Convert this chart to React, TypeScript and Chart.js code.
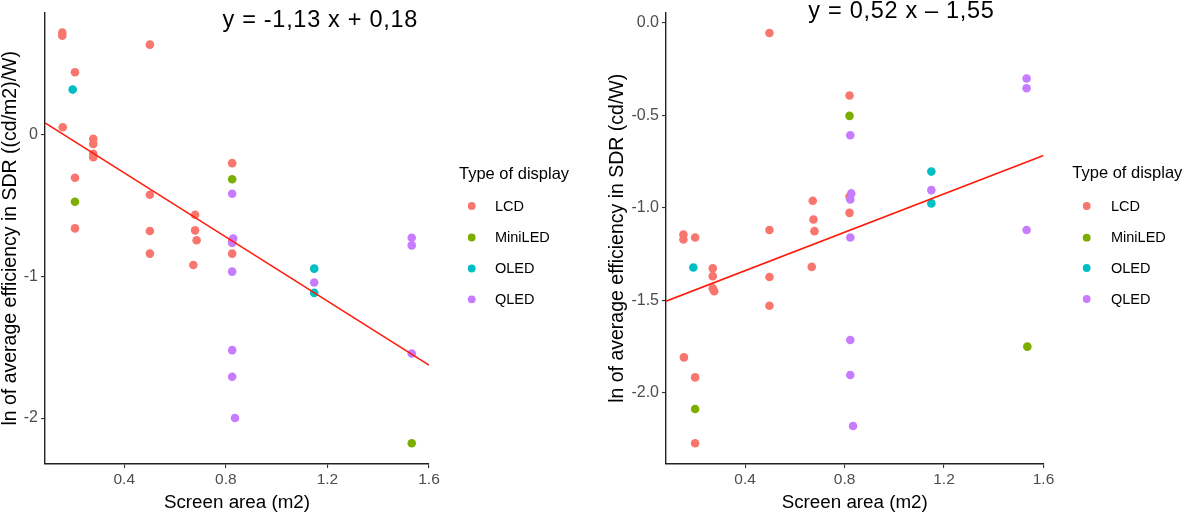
import { useEffect, useRef } from "react";
import { Chart, registerables } from "chart.js";

Chart.register(...registerables);

const FONT = '"Liberation Sans", Arial, Helvetica, sans-serif';
Chart.defaults.font.family = FONT;

// ---------- shared ----------
const displayTypes = ["LCD", "MiniLED", "OLED", "QLED"];
const typeColors = ["#F8766D", "#7CAE00", "#00BFC4", "#C77CFF"];
const legendTitle = "Type of display";
const xTicks = [0.4, 0.8, 1.2, 1.6];
const xTitle = "Screen area (m2)";

// ---------- left panel: ln efficiency ((cd/m2)/W) ----------
const leftLcdX = [0.156, 0.156, 0.158, 0.206, 0.206, 0.206, 0.278, 0.278, 0.278, 0.278, 0.501, 0.501, 0.501, 0.501, 0.679, 0.679, 0.685, 0.672, 0.825, 0.825, 0.825];
const leftLcdY = [0.72, 0.697, 0.051, 0.439, -0.305, -0.662, -0.03, -0.066, -0.136, -0.16, 0.634, -0.425, -0.681, -0.84, -0.566, -0.676, -0.746, -0.92, -0.202, -0.75, -0.84];
const leftMiniX = [0.206, 0.825, 1.532];
const leftMiniY = [-0.474, -0.315, -2.178];
const leftOledX = [0.197, 1.148, 1.148];
const leftOledY = [0.317, -0.946, -1.117];
const leftQledX = [0.825, 0.829, 0.825, 0.825, 0.825, 0.825, 0.836, 1.148, 1.532, 1.532, 1.532];
const leftQledY = [-0.418, -0.734, -0.765, -0.967, -1.521, -1.709, -2.0, -1.044, -0.728, -0.782, -1.545];
const leftFitX = [0.088, 1.6];
const leftFitY = [0.082, -1.627];
const leftYTicks = [0, -1, -2];
const leftYTitle = "ln of average efficiency in SDR ((cd/m2)/W)";
const leftEquation = "y = -1,13 x + 0,18";

// ---------- right panel: ln efficiency (cd/W) ----------
const rightLcdX = [0.152, 0.152, 0.154, 0.199, 0.199, 0.199, 0.27, 0.27, 0.27, 0.276, 0.498, 0.498, 0.498, 0.498, 0.672, 0.675, 0.679, 0.668, 0.82, 0.82, 0.82];
const rightLcdY = [-1.145, -1.172, -1.809, -1.161, -1.917, -2.273, -1.328, -1.37, -1.436, -1.451, -0.056, -1.121, -1.375, -1.53, -0.963, -1.064, -1.127, -1.32, -0.394, -0.94, -1.028];
const rightMiniX = [0.199, 0.82, 1.535];
const rightMiniY = [-2.088, -0.504, -1.751];
const rightOledX = [0.192, 1.149, 1.149];
const rightOledY = [-1.323, -0.805, -0.977];
const rightQledX = [0.823, 0.827, 0.823, 0.823, 0.823, 0.823, 0.834, 1.149, 1.532, 1.532, 1.532];
const rightQledY = [-0.609, -0.923, -0.956, -1.161, -1.715, -1.904, -2.18, -0.905, -0.302, -0.355, -1.121];
const rightFitX = [0.082, 1.6];
const rightFitY = [-1.505, -0.718];
const rightYTicks = [0, -0.5, -1, -1.5, -2];
const rightYTitle = "ln of average efficiency in SDR (cd/W)";
const rightEquation = "y = 0,52 x \u2013 1,55";

type PanelCfg = {
  xs: number[][];
  ys: number[][];
  fitX: number[];
  fitY: number[];
  xMin: number;
  xMax: number;
  yMin: number;
  yMax: number;
  yTicks: number[];
  yDecimals: number;
  yTitle: string;
  equation: string;
  eqX: number;
  eqY: number;
  yAxisWidth: number;
  padRight: number;
  yTitlePad: number;
  legX: number;
  legDotX: number;
  legTextX: number;
  legTitleY: number;
  legItemY: number[];
};

const zip = (xs: number[], ys: number[]) => xs.map((x, i) => ({ x, y: ys[i] }));

function Panel({ cfg, left }: { cfg: PanelCfg; left: number }) {
  const ref = useRef<HTMLCanvasElement | null>(null);
  useEffect(() => {
    if (!ref.current) return;
    const overlay = {
      id: "overlay",
      afterDraw(chart: any) {
        const ctx = chart.ctx as CanvasRenderingContext2D;
        ctx.save();
        ctx.fillStyle = "#000";
        ctx.textAlign = "left";
        ctx.textBaseline = "alphabetic";
        ctx.font = `23.5px ${FONT}`;
        (ctx as any).letterSpacing = "0.7px";
        ctx.fillText(cfg.equation, cfg.eqX, cfg.eqY);
        (ctx as any).letterSpacing = "0px";
        ctx.textBaseline = "middle";
        ctx.font = `16.5px ${FONT}`;
        ctx.fillText(legendTitle, cfg.legX, cfg.legTitleY);
        ctx.font = `14.5px ${FONT}`;
        displayTypes.forEach((t, i) => {
          const y = cfg.legItemY[i];
          ctx.fillStyle = typeColors[i];
          ctx.beginPath();
          ctx.arc(cfg.legDotX, y, 3.9, 0, Math.PI * 2);
          ctx.fill();
          ctx.fillStyle = "#000";
          ctx.fillText(t, cfg.legTextX, y + 0.5);
        });
        ctx.restore();
      },
    };
    const pointSets = displayTypes.map((t, i) => ({
      type: "scatter" as const,
      label: t,
      data: zip(cfg.xs[i], cfg.ys[i]),
      backgroundColor: typeColors[i],
      borderColor: typeColors[i],
      borderWidth: 0,
      pointRadius: 4.3,
      pointHoverRadius: 4.3,
      order: displayTypes.length - i,
    }));
    const tickFontX = { size: 15.5, family: FONT };
    const tickFontY = { size: 16, family: FONT };
    const chart = new Chart(ref.current, {
      type: "scatter",
      data: {
        datasets: [
          ...pointSets,
          {
            type: "line",
            label: "fit",
            data: zip(cfg.fitX, cfg.fitY),
            borderColor: "#FF1A0A",
            borderWidth: 1.6,
            pointRadius: 0,
            showLine: true,
            fill: false,
            order: 0,
          } as any,
        ],
      },
      options: {
        animation: false,
        responsive: false,
        events: [],
        layout: { padding: { left: 0, right: cfg.padRight, top: 12, bottom: 0 } },
        plugins: { legend: { display: false }, tooltip: { enabled: false } },
        scales: {
          x: {
            type: "linear",
            min: cfg.xMin,
            max: cfg.xMax,
            afterBuildTicks: (s: any) => {
              s.ticks = xTicks.map((value) => ({ value }));
            },
            afterFit: (s: any) => {
              s.height = 50;
            },
            grid: { display: true, drawOnChartArea: false, drawTicks: true, tickLength: 4, color: "#333", lineWidth: 1.1 },
            border: { display: true, color: "#222", width: 1.4 },
            ticks: {
              font: tickFontX,
              color: "#4D4D4D",
              padding: 2,
              maxRotation: 0,
              autoSkip: false,
              callback: (v: any) => Number(v).toFixed(1),
            },
            title: {
              display: true,
              text: xTitle,
              color: "#000",
              font: { size: 18.8, family: FONT, lineHeight: 1 },
              padding: { top: 0, bottom: 2 },
            },
          },
          y: {
            type: "linear",
            min: cfg.yMin,
            max: cfg.yMax,
            afterBuildTicks: (s: any) => {
              s.ticks = cfg.yTicks.map((value) => ({ value }));
            },
            afterFit: (s: any) => {
              s.width = cfg.yAxisWidth;
            },
            grid: { display: true, drawOnChartArea: false, drawTicks: true, tickLength: 4, color: "#333", lineWidth: 1.1 },
            border: { display: true, color: "#222", width: 1.4 },
            ticks: {
              font: tickFontY,
              color: "#4D4D4D",
              padding: 3,
              autoSkip: false,
              callback: (v: any) => Number(v).toFixed(cfg.yDecimals),
            },
            title: {
              display: true,
              text: cfg.yTitle,
              color: "#000",
              font: { size: 19.5, family: FONT, lineHeight: 1 },
              padding: { top: cfg.yTitlePad, bottom: 0 },
            },
          },
        },
      },
      plugins: [overlay],
    } as any);
    return () => chart.destroy();
  }, [cfg]);
  return (
    <canvas
      ref={ref}
      width={600}
      height={514}
      style={{ position: "absolute", left, top: 0, width: 600, height: 514 }}
    />
  );
}

const leftCfg: PanelCfg = {
  xs: [leftLcdX, leftMiniX, leftOledX, leftQledX],
  ys: [leftLcdY, leftMiniY, leftOledY, leftQledY],
  fitX: leftFitX,
  fitY: leftFitY,
  xMin: 0.088,
  xMax: 1.6,
  yMin: -2.324,
  yMax: 0.86,
  yTicks: leftYTicks,
  yDecimals: 0,
  yTitle: leftYTitle,
  equation: leftEquation,
  eqX: 222.5,
  eqY: 26.5,
  yAxisWidth: 45,
  padRight: 171,
  yTitlePad: 1,
  legX: 459,
  legDotX: 471.7,
  legTextX: 495,
  legTitleY: 174,
  legItemY: [206, 237.5, 268.5, 299.3],
};

const rightCfg: PanelCfg = {
  xs: [rightLcdX, rightMiniX, rightOledX, rightQledX],
  ys: [rightLcdY, rightMiniY, rightOledY, rightQledY],
  fitX: rightFitX,
  fitY: rightFitY,
  xMin: 0.082,
  xMax: 1.6,
  yMin: -2.385,
  yMax: 0.054,
  yTicks: rightYTicks,
  yDecimals: 1,
  yTitle: rightYTitle,
  equation: rightEquation,
  eqX: 208.3,
  eqY: 17.5,
  yAxisWidth: 66,
  padRight: 156.5,
  yTitlePad: 8,
  legX: 472.3,
  legDotX: 486.7,
  legTextX: 511,
  legTitleY: 173.5,
  legItemY: [206, 237.7, 268, 299],
};

export default function App() {
  return (
    <div style={{ position: "absolute", left: 0, top: 0, width: 1200, height: 514, background: "#fff" }}>
      <Panel cfg={leftCfg} left={0} />
      <Panel cfg={rightCfg} left={600} />
    </div>
  );
}
